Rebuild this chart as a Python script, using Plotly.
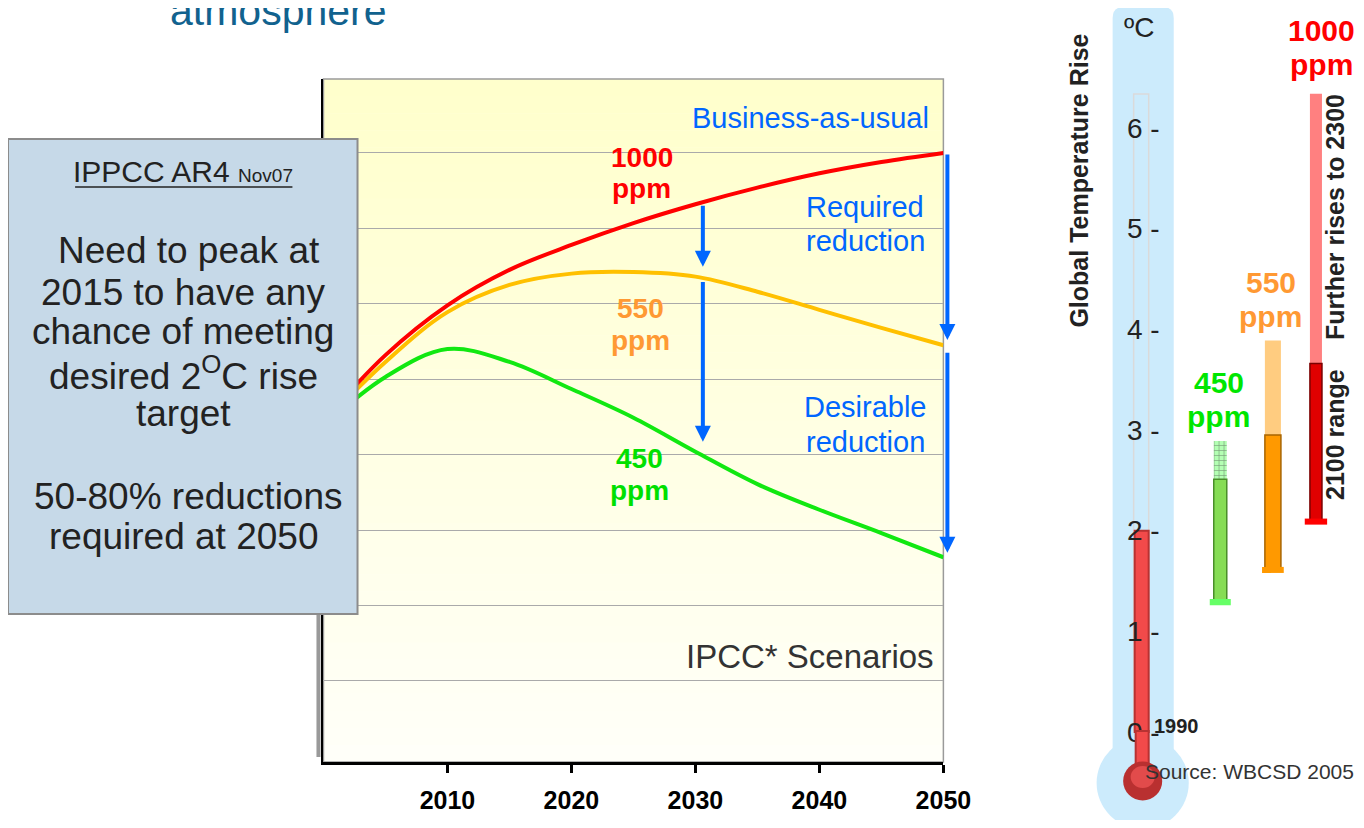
import plotly.graph_objects as go

# the page sits inside an 8px body margin; positions below are page pixels
OX, OY = 8, 8
FW, FH = 1348, 812          # area the figure actually covers on the page
LAYOUT_W = 1378             # requested width that renders as FW
FONT = "Arial, 'Liberation Sans', sans-serif"

# emissions scenarios (arbitrary units, y axis hidden)
years = [2000, 2005, 2010, 2015, 2020, 2025, 2030, 2035, 2040, 2045, 2050]
co2_1000 = [4.45, 5.32, 5.98, 6.45, 6.78, 7.07, 7.32, 7.54, 7.73, 7.88, 8.00]
co2_550 = [4.42, 5.23, 5.89, 6.25, 6.40, 6.42, 6.36, 6.16, 5.92, 5.68, 5.45]
co2_450 = [4.38, 5.03, 5.40, 5.23, 4.87, 4.49, 4.04, 3.61, 3.27, 2.96, 2.64]
year_ticks = [2010, 2020, 2030, 2040, 2050]

# thermometer (global temperature rise, degC)
thermo_cats = ["1990", "450 ppm", "550 ppm", "1000 ppm"]
target_rise = [2.0]
scenarios = ["450 ppm", "550 ppm", "1000 ppm"]
rise_2100_low = [1.3, 1.62, 2.1]
rise_2100_high = [2.51, 2.95, 3.66]
rise_2300_high = [2.89, 3.89, 6.34]
temp_ticks = [0, 1, 2, 3, 4, 5, 6]


def px(x):
    return (x - OX) / FW


def py(y):
    return 1 - (y - OY) / FH


fig = go.Figure()

# --- main chart lines
for vals, col in [(co2_450, "#11E811"), (co2_550, "#FFC000"), (co2_1000, "#FF0000")]:
    fig.add_trace(go.Scatter(x=years, y=vals, mode="lines", hoverinfo="skip",
                             line=dict(color=col, width=4, shape="spline", smoothing=1.0),
                             xaxis="x", yaxis="y"))

# --- thermometer bars
fig.add_trace(go.Bar(x=[thermo_cats[0]], y=target_rise, base=0, width=0.241,
                     marker=dict(color="#F24A4A", line=dict(color="#B83232", width=2)),
                     xaxis="x2", yaxis="y2", hoverinfo="skip"))
fig.add_trace(go.Bar(x=scenarios, base=rise_2100_high,
                     y=[h - m for h, m in zip(rise_2300_high, rise_2100_high)],
                     width=[0.224, 0.276, 0.207], offset=[0.241, 0.121, -0.1035],
                     marker=dict(color=["#B3FFB3", "#FFCC80", "#FF8080"], line=dict(width=0),
                                 pattern=dict(shape=["+", "", ""], fgcolor="#8FDF8F", size=5, solidity=0.25)),
                     xaxis="x2", yaxis="y2", hoverinfo="skip"))
fig.add_trace(go.Bar(x=scenarios, base=rise_2100_low,
                     y=[m - l for m, l in zip(rise_2100_high, rise_2100_low)],
                     width=[0.224, 0.276, 0.207], offset=[0.241, 0.121, -0.1035],
                     marker=dict(color=["#86DD55", "#FF9900", "#E00000"],
                                 line=dict(color=["#4A8F2A", "#A86400", "#7A0000"], width=1.5)),
                     xaxis="x2", yaxis="y2", hoverinfo="skip"))
fig.add_trace(go.Bar(x=scenarios, base=[l - 0.04 for l in rise_2100_low], y=[0.06] * 3,
                     width=[0.362, 0.374, 0.385], offset=[0.172, 0.072, -0.1925],
                     marker=dict(color=["#66FF66", "#FF9900", "#FF0000"], line=dict(width=0)),
                     xaxis="x2", yaxis="y2", hoverinfo="skip"))

shapes = []
# plot background gradient
top, bot, n = 79, 762, 40
for i in range(n):
    t = i / (n - 1)
    b = int(204 + (249 - 204) * t)
    y0 = top + (bot - top) * i / n
    y1 = top + (bot - top) * (i + 1) / n
    shapes.append(dict(type="rect", xref="paper", yref="paper", x0=px(323), x1=px(942),
                       y0=py(y1 + 0.5), y1=py(y0), fillcolor=f"rgb(255,255,{b})",
                       line=dict(width=0), layer="below"))
shapes.append(dict(type="rect", xref="paper", yref="paper", x0=px(323), x1=px(942), y0=py(762), y1=py(79),
                   line=dict(color="#9A9A9A", width=1.5), layer="below"))
shapes.append(dict(type="line", xref="paper", yref="paper", x0=px(318), x1=px(318), y0=py(757), y1=py(612),
                   line=dict(color="#999999", width=4), layer="above"))
# text box
shapes.append(dict(type="rect", xref="paper", yref="paper", x0=px(8), x1=px(357), y0=py(614), y1=py(139),
                   fillcolor="#C6D9E8", line=dict(color="#8C8C8C", width=2), layer="above"))
shapes.append(dict(type="line", xref="paper", yref="paper", x0=px(75), x1=px(292), y0=py(187), y1=py(187),
                   line=dict(color="#222222", width=1.5), layer="above"))


def path(points):
    s = ""
    for cmd, pts in points:
        s += cmd + " ".join(f"{px(a):.5f},{py(b):.5f}" for a, b in pts) + " "
    return s + "Z"


# thermometer body
x0, x1, yt, yb, r = 1111, 1172, 7, 770, 11
shapes.append(dict(type="path", xref="paper", yref="paper", layer="below", fillcolor="#CCEBFC",
                   line=dict(width=0),
                   path=path([("M", [(x0, yt + r)]), ("Q", [(x0, yt), (x0 + r, yt)]), ("L", [(x1 - r, yt)]),
                              ("Q", [(x1, yt), (x1, yt + r)]), ("L", [(x1, yb)]), ("L", [(x0, yb)])])))
shapes.append(dict(type="circle", xref="paper", yref="paper", layer="below", fillcolor="#CCEBFC",
                   line=dict(width=0), x0=px(1141 - 46), x1=px(1141 + 46), y0=py(783 + 46), y1=py(783 - 46)))
shapes.append(dict(type="rect", xref="paper", yref="paper", layer="below", fillcolor="rgba(0,0,0,0)",
                   line=dict(color="#DADADA", width=1.5), x0=px(1132), x1=px(1147), y0=py(730), y1=py(94)))
shapes.append(dict(type="rect", xref="paper", yref="paper", layer="above", fillcolor="#F24A4A",
                   line=dict(color="#B83232", width=2), x0=px(1134), x1=px(1147), y0=py(775), y1=py(731)))
shapes.append(dict(type="circle", xref="paper", yref="paper", layer="above", fillcolor="#B93030",
                   line=dict(width=0), x0=px(1141 - 19.5), x1=px(1141 + 19.5), y0=py(781 + 19.5), y1=py(781 - 19.5)))
shapes.append(dict(type="circle", xref="paper", yref="paper", layer="above", fillcolor="#E24B4B",
                   line=dict(width=0), x0=px(1141 - 12), x1=px(1141 + 12), y0=py(777 + 11), y1=py(777 - 11)))


def note(text, x, y, size, color, bold=False, xanchor="center", angle=0):
    if bold:
        text = f"<b>{text}</b>"
    fig.add_annotation(text=text, x=px(x), y=py(y), xref="paper", yref="paper", xanchor=xanchor,
                       yanchor="middle", showarrow=False, textangle=angle,
                       font=dict(family=FONT, size=size, color=color))


BLUE = "#0066FF"
note("atmosphere", 168, 11, 41, "#11628E", xanchor="left")
note("Business-as-usual", 809, 118, 29, BLUE)
note("Required", 864, 207, 29, BLUE)
note("reduction", 864, 241, 29, BLUE)
note("Desirable", 864, 407, 29, BLUE)
note("reduction", 864, 442, 29, BLUE)
note("1000", 641, 157, 28, "#FF0000", bold=True)
note("ppm", 641, 189, 28, "#FF0000", bold=True)
note("550", 640, 308, 28, "#FF9933", bold=True)
note("ppm", 640, 340, 28, "#FF9933", bold=True)
note("450", 639, 458, 28, "#00E000", bold=True)
note("ppm", 639, 490, 28, "#00E000", bold=True)
note("IPCC* Scenarios", 935, 656, 33, "#333333", xanchor="right")

# text box
note("IPPCC AR4 <span style='font-size:19px'>Nov07</span>", 183, 172, 30, "#222222")
box_lines = [("Need to peak at", 189, 251), ("2015 to have any", 183, 292), ("chance of meeting", 183, 331),
             ("desired 2<sup>O</sup>C rise", 183, 373), ("target", 183, 413),
             ("50-80% reductions", 188, 496), ("required at 2050", 183, 536)]
for txt, bx, by in box_lines:
    note(txt, bx, by, 37, "#222222")

# thermometer labels
note("Global Temperature Rise", 1077, 181, 25, "#222222", bold=True, angle=-90)
note("Further rises to 2300", 1333, 217, 25, "#222222", bold=True, angle=-90)
note("2100 range", 1333, 434, 25, "#222222", bold=True, angle=-90)
note("ºC", 1137, 28, 28, "#222222")
note("1000", 1320, 30, 30, "#FF0000", bold=True)
note("ppm", 1320, 64, 30, "#FF0000", bold=True)
note("550", 1269, 282, 30, "#FF9933", bold=True)
note("ppm", 1269, 316, 30, "#FF9933", bold=True)
note("450", 1217, 382, 30, "#00E600", bold=True)
note("ppm", 1217, 416, 30, "#00E600", bold=True)
note("1990", 1175, 726, 20, "#222222", bold=True)
note("Source: WBCSD 2005", 1354, 771, 21, "#333333", xanchor="right")

# reduction arrows, anchored to the scenario values
v = {yr: (a, b, c) for yr, a, b, c in zip(years, co2_1000, co2_550, co2_450)}
for y_from, y_to in [(v[2030][0], v[2030][1] + 0.13), (v[2030][1] - 0.05, v[2030][2] + 0.13)]:
    fig.add_annotation(x=2030.6, y=y_to, ax=2030.6, ay=y_from, xref="x", yref="y", axref="x", ayref="y",
                       text="", showarrow=True, arrowhead=2, arrowsize=0.8, arrowwidth=4,
                       arrowcolor=BLUE, standoff=0)
for y_from, y_to in [(v[2050][0], v[2050][1] + 0.07), (v[2050][1] - 0.08, v[2050][2] + 0.06)]:
    fig.add_annotation(x=px(946), y=y_to, ax=0, ay=y_from, xref="paper", yref="y", axref="pixel", ayref="y",
                       text="", showarrow=True, arrowhead=2, arrowsize=0.8, arrowwidth=4,
                       arrowcolor=BLUE, standoff=0)

fig.update_layout(
    width=LAYOUT_W, height=FH, margin=dict(l=0, r=0, t=0, b=0),
    paper_bgcolor="white", plot_bgcolor="rgba(0,0,0,0)",
    showlegend=False, barmode="overlay", shapes=shapes,
    xaxis=dict(domain=[px(323), px(942)], range=[2000, 2050], tickvals=year_ticks,
               ticks="outside", ticklen=8, tickwidth=3, tickcolor="black", ticklabelstandoff=6,
               showline=True, linecolor="black", linewidth=3, showgrid=False, zeroline=False,
               tickfont=dict(family=FONT, size=25, color="black", weight="bold")),
    yaxis=dict(domain=[py(762), py(79)], range=[-0.074, 8.98], tickvals=list(range(1, 9)),
               showticklabels=False, gridcolor="#AAAAAA", gridwidth=1, zeroline=False,
               showline=True, linecolor="black", linewidth=2, ticks=""),
    xaxis2=dict(domain=[px(1040), 1], range=[-1.7241, 3.724], type="category",
                categoryorder="array", categoryarray=thermo_cats, visible=False, anchor="y2"),
    yaxis2=dict(domain=[0, 1], range=[(732 - 820) / 100.67, (732 - 8) / 100.67], anchor="free",
                position=px(1158), tickvals=temp_ticks, ticktext=[f"{t} -" for t in temp_ticks], ticks="",
                showgrid=False, zeroline=False, showline=False,
                tickfont=dict(family=FONT, size=28, color="#222222")),
)

fig.write_html("out.html")
